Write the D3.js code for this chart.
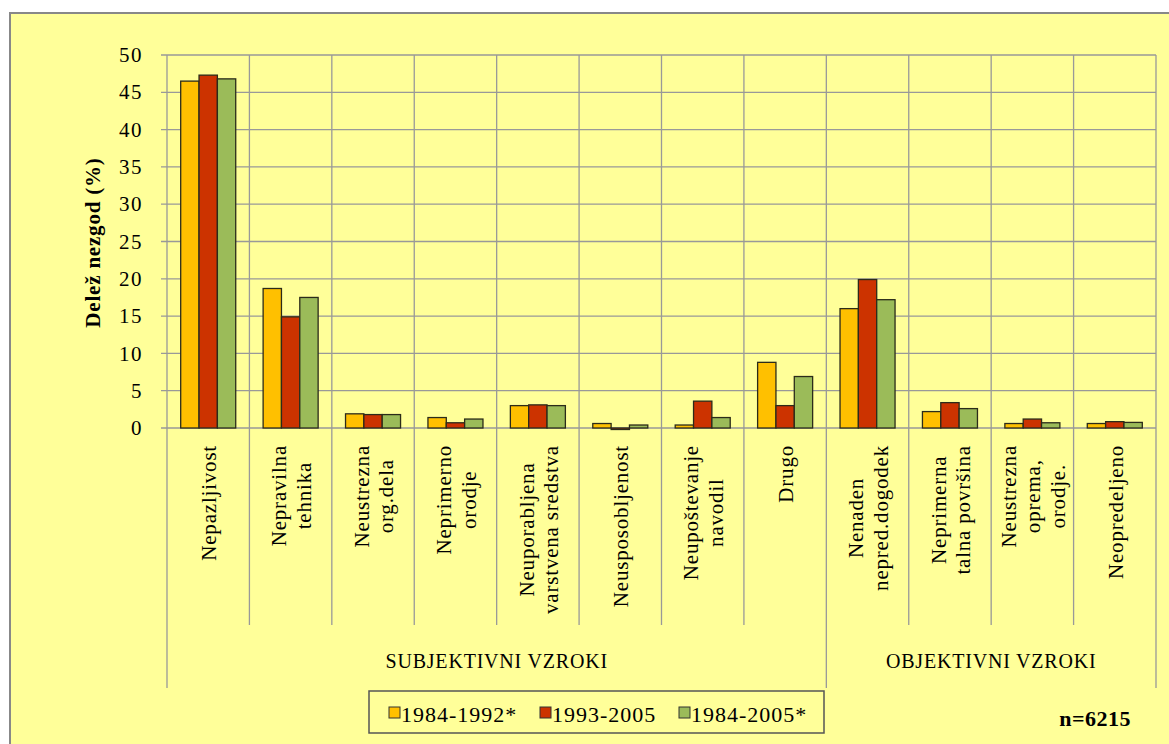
<!DOCTYPE html>
<html><head><meta charset="utf-8">
<script src="https://cdn.jsdelivr.net/npm/d3@7"></script>
<style>html,body{margin:0;padding:0;background:#fff;}</style>
</head>
<body><svg id="c" width="1169" height="744"></svg>
<script>
const categories = [
  ["Nepazljivost"],
  ["Nepravilna","tehnika"],
  ["Neustrezna","org.dela"],
  ["Neprimerno","orodje"],
  ["Neuporabljena","varstvena sredstva"],
  ["Neusposobljenost"],
  ["Neupoštevanje","navodil"],
  ["Drugo"],
  ["Nenaden","nepred.dogodek"],
  ["Neprimerna","talna površina"],
  ["Neustrezna","oprema,","orodje."],
  ["Neopredeljeno"]
];
const seriesNames = ["1984-1992*","1993-2005","1984-2005*"];
const s1984_1992 = [46.5,18.7,1.9,1.4,3.0,0.6,0.4,8.8,16.0,2.2,0.6,0.6];
const s1993_2005 = [47.3,14.9,1.8,0.7,3.1,-0.2,3.6,3.0,19.9,3.4,1.2,0.85];
const s1984_2005 = [46.8,17.5,1.8,1.2,3.0,0.4,1.4,6.9,17.2,2.6,0.7,0.75];
const groups = [{name:"SUBJEKTIVNI VZROKI", from:0, to:8},{name:"OBJEKTIVNI VZROKI", from:8, to:12}];
const yTicks = [0,5,10,15,20,25,30,35,40,45,50];
const colors = ["#FFC000","#CC3300","#9BBB59"];

const FONT = '"Liberation Serif"';
const series = [s1984_1992, s1993_2005, s1984_2005];
const svg = d3.select("#c");
const L=167, R=1156, T=55, B=428;
const gridC="#999", gridW=1.3;

svg.append("rect").attr("x",10).attr("y",13).attr("width",1200).attr("height",800)
  .attr("fill","#FFFF99").attr("stroke","#888").attr("stroke-width",2);

const x0 = d3.scaleBand().domain(d3.range(categories.length)).range([L,R]).padding(0);
const x1 = d3.scaleBand().domain(d3.range(3)).range([0,x0.bandwidth()]).paddingInner(0).paddingOuter(0.747);
const y = d3.scaleLinear().domain([0,50]).range([B,T]);

svg.append("g").selectAll("line").data(yTicks).join("line")
  .attr("x1",L-6).attr("x2",R).attr("y1",d=>y(d)).attr("y2",d=>y(d))
  .attr("stroke",gridC).attr("stroke-width",gridW);
const bounds = d3.range(categories.length+1);
const bx = i=> i<categories.length ? x0(i) : R;
svg.append("g").selectAll("line").data(bounds).join("line")
  .attr("x1",bx).attr("x2",bx).attr("y1",T).attr("y2",625)
  .attr("stroke",gridC).attr("stroke-width",gridW);
const gb = [0,8,12];
svg.append("g").selectAll("line").data(gb).join("line")
  .attr("x1",bx).attr("x2",bx).attr("y1",625).attr("y2",688)
  .attr("stroke",gridC).attr("stroke-width",gridW);

svg.append("g").selectAll("text").data(yTicks).join("text")
  .style("font-family",FONT)
  .attr("x",143).attr("y",d=>y(d)).attr("dy","0.34em").attr("text-anchor","end")
  .attr("font-size",21).attr("letter-spacing",1.5).text(d=>d);

svg.append("text").style("font-family",FONT)
  .attr("transform",`translate(93,${(T+B)/2 + 1}) rotate(-90)`)
  .attr("text-anchor","middle").attr("dominant-baseline","central")
  .attr("font-size",21).attr("letter-spacing",0.8).attr("font-weight","bold").text("Delež nezgod (%)");

series.forEach((vals,si)=>{
  svg.append("g").selectAll("rect").data(vals).join("rect")
    .attr("x",(d,i)=>x0(i)+x1(si)).attr("width",x1.bandwidth())
    .attr("y",d=>Math.min(y(d),y(0))).attr("height",d=>Math.abs(y(d)-y(0)))
    .attr("fill",colors[si]).attr("stroke","#2b2b1a").attr("stroke-width",1.3);
});

const lh = 24.5;
categories.forEach((lines,i)=>{
  const cx = x0(i)+x0.bandwidth()/2 + 1;
  const g = svg.append("g");
  const ts = lines.map((ln,k)=> g.append("text").style("font-family",FONT)
      .attr("font-size",21).attr("letter-spacing",0.8)
      .attr("text-anchor","middle").attr("dominant-baseline","central").text(ln));
  const maxLen = d3.max(ts, t=>t.node().getComputedTextLength());
  const cy = 445 + maxLen/2;
  ts.forEach((t,k)=>{
    const lx = cx + (k-(lines.length-1)/2)*lh;
    t.attr("transform",`translate(${lx},${cy}) rotate(-90)`);
  });
});

svg.append("g").selectAll("text").data(groups).join("text").style("font-family",FONT)
  .attr("x",d=>(x0(d.from)+bx(d.to))/2).attr("y",661)
  .attr("text-anchor","middle").attr("dominant-baseline","central")
  .attr("font-size",20).attr("letter-spacing",0.8).text(d=>d.name);

const lg = svg.append("g");
lg.append("rect").attr("x",369).attr("y",691).attr("width",455).attr("height",42)
  .attr("fill","#FFFF99").attr("stroke","#555").attr("stroke-width",1.5);
const lx = [389,540,679];
seriesNames.forEach((n,i)=>{
  lg.append("rect").attr("x",lx[i]).attr("y",707).attr("width",11).attr("height",11)
    .attr("fill",colors[i]).attr("stroke","#333").attr("stroke-width",1);
  lg.append("text").style("font-family",FONT).attr("x",lx[i]+12).attr("y",722).attr("font-size",22)
    .attr("letter-spacing",1).text(n);
});

svg.append("text").style("font-family",FONT).attr("x",1131).attr("y",726).attr("text-anchor","end")
  .attr("font-size",22).attr("font-weight","bold").attr("letter-spacing",0.5).text("n=6215");
</script></body></html>
